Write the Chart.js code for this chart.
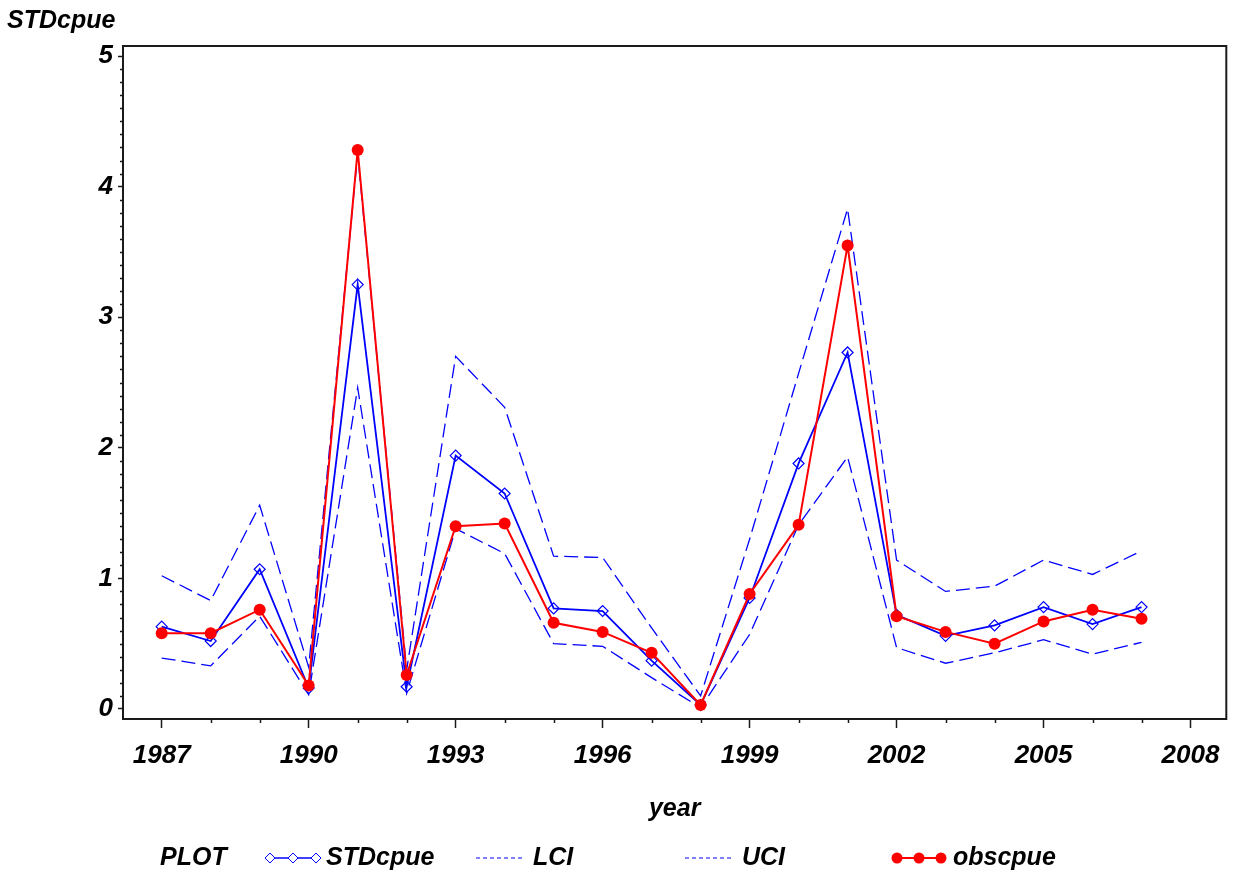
<!DOCTYPE html>
<html>
<head>
<meta charset="utf-8">
<title>STDcpue by year</title>
<script src="https://cdn.jsdelivr.net/npm/chart.js@4.4.1/dist/chart.umd.min.js"></script>
<style>
  html, body { margin: 0; padding: 0; background: #fff; }
  #wrap { width: 1233px; height: 877px; }
</style>
</head>
<body>
<div id="wrap"><canvas id="chart" width="1233" height="877"></canvas></div>
<script>
  // values
  var years    = [1987, 1988, 1989, 1990, 1991, 1992, 1993, 1994, 1995, 1996, 1997,
                  1998, 1999, 2000, 2001, 2002, 2003, 2004, 2005, 2006, 2007];
  var stdCpue  = [0.63, 0.52, 1.07, 0.16, 3.25, 0.17, 1.94, 1.65, 0.77, 0.75, 0.37,
                  0.03, 0.85, 1.88, 2.73, 0.72, 0.56, 0.64, 0.78, 0.65, 0.78];
  var lci      = [0.39, 0.33, 0.71, 0.11, 2.46, 0.12, 1.38, 1.19, 0.50, 0.48, 0.24,
                  0.01, 0.57, 1.41, 1.93, 0.47, 0.35, 0.43, 0.53, 0.42, 0.51];
  var uci      = [1.02, 0.83, 1.56, 0.32, 4.25, 0.30, 2.70, 2.31, 1.17, 1.16, 0.62,
                  0.10, 1.30, 2.57, 3.83, 1.14, 0.90, 0.94, 1.14, 1.03, 1.21];
  var obsCpue  = [0.58, 0.58, 0.76, 0.18, 4.28, 0.26, 1.40, 1.42, 0.66, 0.59, 0.43,
                  0.03, 0.88, 1.41, 3.55, 0.71, 0.59, 0.50, 0.67, 0.76, 0.69];

  var xTickYears  = [1987, 1990, 1993, 1996, 1999, 2002, 2005, 2008];
  var yTickValues = [0, 1, 2, 3, 4, 5];

  var BLUE = '#0000ff';
  var RED = '#ff0000';
  var AXIS = '#1a1a1a';
  var FAMILY = '"Liberation Sans", Arial, Helvetica, sans-serif';

  function pts(vals) {
    return years.map(function (y, i) { return { x: y, y: vals[i] }; });
  }

  function diamond(ctx, x, y, r) {
    ctx.beginPath();
    ctx.moveTo(x, y - r); ctx.lineTo(x + r, y); ctx.lineTo(x, y + r); ctx.lineTo(x - r, y);
    ctx.closePath();
    ctx.fill(); ctx.stroke();
  }

  // frame, minor ticks, y title and the SAS-style legend
  var extras = {
    id: 'extras',
    afterDraw: function (chart) {
      var ctx = chart.ctx, a = chart.chartArea;
      var xs = chart.scales.x, ys = chart.scales.y;
      ctx.save();
      ctx.strokeStyle = AXIS;
      ctx.lineWidth = 2;
      ctx.strokeRect(a.left, a.top, a.right - a.left, a.bottom - a.top);

      ctx.lineWidth = 1.5;
      ctx.beginPath();
      for (var v = 1; v < 51; v++) {
        if (v % 10 === 0) continue;
        var py = Math.round(ys.getPixelForValue(v / 10)) + 0.5;
        ctx.moveTo(a.left - 3, py); ctx.lineTo(a.left, py);
      }
      years.forEach(function (yr) {
        if (xTickYears.indexOf(yr) >= 0) return;
        var px = Math.round(xs.getPixelForValue(yr)) + 0.5;
        ctx.moveTo(px, a.bottom); ctx.lineTo(px, a.bottom + 4);
      });
      ctx.stroke();

      ctx.fillStyle = '#000';
      ctx.font = 'italic bold 25px ' + FAMILY;
      ctx.textBaseline = 'middle';
      ctx.textAlign = 'left';
      ctx.fillText('STDcpue', 7, 21);

      // legend row
      var ly = 858;
      ctx.fillText('PLOT', 160, ly);
      ctx.fillText('STDcpue', 326, ly);
      ctx.fillText('LCI', 533, ly);
      ctx.fillText('UCI', 742, ly);
      ctx.fillText('obscpue', 953, ly);

      ctx.strokeStyle = BLUE; ctx.lineWidth = 1.5;
      ctx.beginPath(); ctx.moveTo(267, ly); ctx.lineTo(318, ly); ctx.stroke();
      ctx.fillStyle = '#fff'; ctx.lineWidth = 1;
      [270, 293, 316].forEach(function (x) { diamond(ctx, x, ly, 5); });

      ctx.lineWidth = 1;
      ctx.setLineDash([4, 3]);
      ctx.beginPath();
      ctx.moveTo(476, ly); ctx.lineTo(522, ly);
      ctx.moveTo(685, ly); ctx.lineTo(733, ly);
      ctx.stroke();
      ctx.setLineDash([]);

      ctx.strokeStyle = RED; ctx.fillStyle = RED; ctx.lineWidth = 2;
      ctx.beginPath(); ctx.moveTo(896, ly); ctx.lineTo(942, ly); ctx.stroke();
      [897, 919, 941].forEach(function (x) {
        ctx.beginPath(); ctx.arc(x, ly, 5.5, 0, Math.PI * 2); ctx.fill();
      });
      ctx.restore();
    }
  };

  var tickFont = { family: FAMILY, size: 26, style: 'italic', weight: 'bold' };
  var titleFont = { family: FAMILY, size: 25, style: 'italic', weight: 'bold' };

  new Chart(document.getElementById('chart'), {
    type: 'line',
    data: {
      datasets: [
        { label: 'STDcpue', data: pts(stdCpue), order: 1, borderColor: BLUE, borderWidth: 1.8,
          pointStyle: 'rectRot', pointRadius: 5.5, pointBorderWidth: 1.2,
          pointBorderColor: BLUE, pointBackgroundColor: 'rgba(255,255,255,0)' },
        { label: 'LCI', data: pts(lci), order: 2, borderColor: BLUE, borderWidth: 1.3,
          borderDash: [14, 6], pointRadius: 0 },
        { label: 'UCI', data: pts(uci), order: 2, borderColor: BLUE, borderWidth: 1.3,
          borderDash: [14, 6], pointRadius: 0 },
        { label: 'obscpue', data: pts(obsCpue), order: 0, borderColor: RED, borderWidth: 2,
          pointStyle: 'circle', pointRadius: 6, pointBorderWidth: 0,
          pointBackgroundColor: RED }
      ]
    },
    options: {
      responsive: false,
      animation: false,
      devicePixelRatio: 1,
      layout: { padding: { top: 46, left: 0, right: 4, bottom: 53 } },
      plugins: { legend: { display: false }, tooltip: { enabled: false } },
      scales: {
        x: {
          type: 'linear', min: 1986.21, max: 2008.73,
          afterBuildTicks: function (s) { s.ticks = xTickYears.map(function (v) { return { value: v }; }); },
          afterFit: function (s) { s.height = 105; },
          grid: { drawOnChartArea: false, drawTicks: true, tickLength: 9, color: AXIS, tickWidth: 1.5 },
          border: { display: true, color: AXIS, width: 2 },
          ticks: { color: '#000', font: tickFont, padding: 12, maxRotation: 0, autoSkip: false,
                   callback: function (v) { return String(v); } },
          title: { display: true, text: 'year', color: '#000', font: titleFont, padding: { top: 0, bottom: 0 } }
        },
        y: {
          type: 'linear', min: -0.077, max: 5.077,
          afterBuildTicks: function (s) { s.ticks = yTickValues.map(function (v) { return { value: v }; }); },
          afterFit: function (s) { s.width = 123; },
          grid: { drawOnChartArea: false, drawTicks: true, tickLength: 5, color: AXIS, tickWidth: 1.5 },
          border: { display: true, color: AXIS, width: 2 },
          ticks: { color: '#000', font: tickFont, padding: 5, callback: function (v) { return String(v); } }
        }
      }
    },
    plugins: [extras]
  });
</script>
</body>
</html>
